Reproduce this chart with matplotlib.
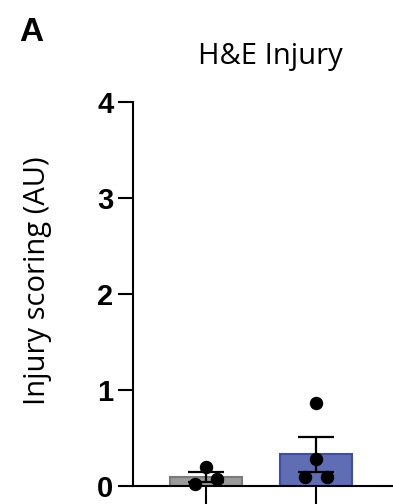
import numpy as np
import matplotlib
matplotlib.use("Agg")
import matplotlib.pyplot as plt

# values
groups = ["Sham", "Injury"]
sham_points = [0.20, 0.02, 0.07]
injury_points = [0.86, 0.28, 0.09, 0.09]
point_offsets = [[0.0, -0.1, 0.1], [0.0, 0.0, -0.1, 0.1]]
bar_colors = ["#9a9a9a", "#5f6db5"]
edge_colors = ["#7a7a7a", "#3c4ea8"]
yticks = [0, 1, 2, 3, 4]

data = [sham_points, injury_points]
means = [np.mean(d) for d in data]
sems = [np.std(d, ddof=1) / np.sqrt(len(d)) for d in data]
x = np.arange(len(groups))

fig = plt.figure(figsize=(3.93, 5.04), dpi=100)
ax = fig.add_axes([0.338, 0.0357, 0.70, 0.762])

ax.bar(x, means, width=0.66, color=bar_colors, edgecolor=edge_colors, linewidth=1.5, zorder=1)
for i, d in enumerate(data):
    ax.scatter(x[i] + np.array(point_offsets[i]), d, s=75, color="black", zorder=3, clip_on=False)
ax.errorbar(x, means, yerr=sems, fmt="none", ecolor="black", elinewidth=1.6,
            capsize=13, capthick=1.6, zorder=4)

ax.set_xlim(-0.664, 1.836)
ax.set_ylim(0, 4)
ax.set_yticks(yticks)
ax.set_yticklabels([str(t) for t in yticks], fontfamily="Liberation Sans",
                   fontweight="bold", fontsize=21)
ax.set_xticks(x)
ax.set_xticklabels([])
ax.tick_params(axis="y", length=11, width=1.5, pad=3)
ax.tick_params(axis="x", length=14, width=1.5, direction="out")
for s in ["top", "right"]:
    ax.spines[s].set_visible(False)
for s in ["left", "bottom"]:
    ax.spines[s].set_linewidth(1.5)

fig.text(38 / 393, 0.444, "Injury scoring (AU)", fontfamily="Open Sans", fontsize=21,
         rotation=90, ha="center", va="center")
fig.text(0.687, 0.887, "H&E Injury", fontfamily="Open Sans", fontsize=21,
         ha="center", va="center")
fig.text(0.05, 0.935, "A", fontfamily="Liberation Sans", fontweight="bold",
         fontsize=24, ha="left", va="center")

fig.savefig("out.png", dpi=100)
